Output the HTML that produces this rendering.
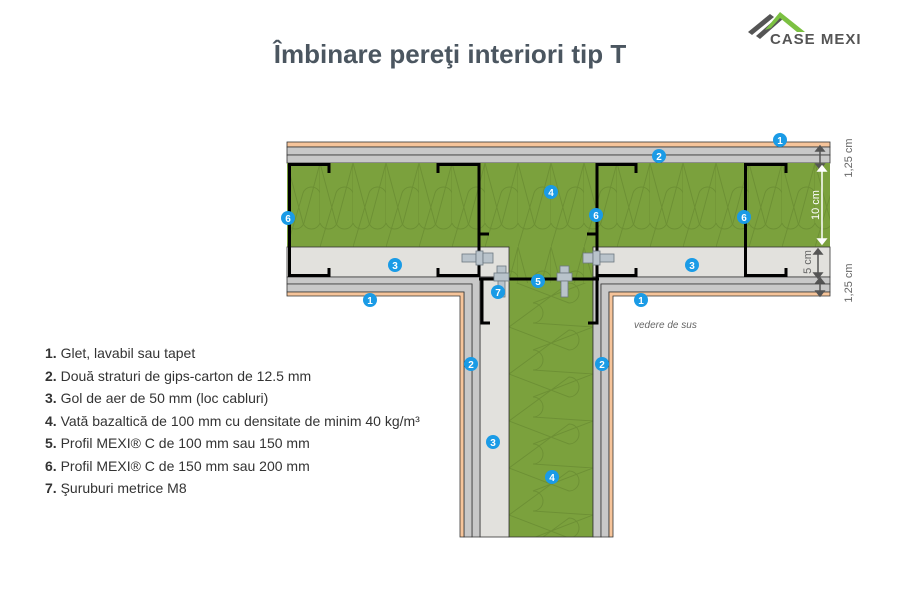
<!DOCTYPE html>
<html><head><meta charset="utf-8"><style>
body{margin:0;background:#fff;width:900px;height:600px;overflow:hidden;font-family:"Liberation Sans",sans-serif}
svg{position:absolute;left:0;top:0}
</style></head><body>
<svg width="900" height="600" viewBox="0 0 900 600" xmlns="http://www.w3.org/2000/svg">
<defs>
<pattern id="wool" x="287" y="163" width="33" height="84" patternUnits="userSpaceOnUse">
<rect width="33" height="84" fill="#7ba13d"/>
<path d="M0,0 L16,60 A9,9 0 0 0 33,60 L33,0 M33,0 L17,60 A9,9 0 0 1 0,60 M0,84 L16,30 A9,9 0 0 1 33,30" fill="none" stroke="#5b7c2b" stroke-width="1" opacity="0.45"/>
</pattern>
<pattern id="wool2" x="509" y="280" width="84" height="47" patternUnits="userSpaceOnUse">
<rect width="84" height="47" fill="#7ba13d"/>
<path d="M0,0 L60,23 A10,10 0 0 0 60,3 L0,47 M84,0 L24,23 A10,10 0 0 1 24,43 L84,47" fill="none" stroke="#5b7c2b" stroke-width="1" opacity="0.45"/>
</pattern>
</defs>
<text x="450" y="63" text-anchor="middle" font-size="26" font-weight="bold" fill="#4b5660">Îmbinare pereţi interiori tip T</text>
<path d="M748,32 L770,14 L774,17 L752,35Z" fill="#555"/>
<path d="M756,36 L780,15 L784,18 L760,39Z" fill="#555"/>
<path d="M765,30 L780,12 L805,32 L797,32 L780,18 L771,28Z" fill="#7cc142"/>
<text x="770" y="44" font-size="15" font-weight="bold" fill="#555" letter-spacing="1">CASE MEXI</text>
<rect x="287" y="142" width="543" height="5" fill="#f6c49a" stroke="#333" stroke-width="0.8"/>
<rect x="287" y="147" width="543" height="8" fill="#c8c8c8" stroke="#333" stroke-width="0.8"/>
<rect x="287" y="155" width="543" height="8" fill="#c8c8c8" stroke="#333" stroke-width="0.8"/>
<rect x="287" y="163" width="543" height="84" fill="url(#wool)"/>
<rect x="509" y="247" width="84" height="290" fill="url(#wool2)" stroke="#333" stroke-width="0.8"/>
<rect x="509" y="163" width="84" height="120" fill="url(#wool)"/>
<rect x="287" y="247" width="222" height="30" fill="#e2e1dd" stroke="#333" stroke-width="0.8"/>
<rect x="593" y="247" width="237" height="30" fill="#e2e1dd" stroke="#333" stroke-width="0.8"/>
<rect x="480" y="277" width="29" height="260" fill="#e2e1dd" stroke="#333" stroke-width="0.8"/>
<path d="M287,277 H480 V537 H472 V284 H287Z" fill="#c8c8c8" stroke="#333" stroke-width="0.8"/>
<path d="M287,284 H472 V537 H464 V292 H287Z" fill="#c8c8c8" stroke="#333" stroke-width="0.8"/>
<path d="M287,292 H464 V537 H460 V296 H287Z" fill="#f6c49a" stroke="#333" stroke-width="0.8"/>
<path d="M830,277 H593 V537 H601 V284 H830Z" fill="#c8c8c8" stroke="#333" stroke-width="0.8"/>
<path d="M830,284 H601 V537 H609 V292 H830Z" fill="#c8c8c8" stroke="#333" stroke-width="0.8"/>
<path d="M830,292 H609 V537 H613 V296 H830Z" fill="#f6c49a" stroke="#333" stroke-width="0.8"/>
<g fill="none" stroke="#000" stroke-width="3">
<path d="M329,173 V164.5 H289.5 V275.5 H329 V268"/>
<path d="M438,173 V164.5 H479 V277"/>
<path d="M438,268 V275.5 H479"/>
<path d="M479,234 H489"/>
<path d="M479,279 H599"/>
<path d="M490,323 H482 V279"/>
<path d="M588,323 H597 V279"/>
<path d="M636,173 V164.5 H597 V279"/>
<path d="M597,234 H587"/>
<path d="M636,268 V275.5 H597"/>
<path d="M786,173 V164.5 H745.5 V275.5 H786 V268"/>
</g>
<g fill="#b9c3cb" stroke="#6d7880" stroke-width="0.8">
<rect x="462" y="254" width="14" height="8"/><rect x="476" y="251" width="7" height="14"/><rect x="483" y="253" width="10" height="10"/>
<rect x="583" y="253" width="10" height="10"/><rect x="593" y="251" width="7" height="14"/><rect x="600" y="254" width="14" height="8"/>
<rect x="497" y="266" width="9" height="7"/><rect x="494" y="273" width="15" height="8"/><rect x="498" y="281" width="7" height="16"/>
<rect x="560" y="266" width="9" height="7"/><rect x="557" y="273" width="15" height="8"/><rect x="561" y="281" width="7" height="16"/>
</g>
<g stroke="#555" stroke-width="1.5" fill="#555">
<line x1="820" y1="150" x2="820" y2="165"/><path d="M816,151 L820,146 L824,151Z M816,164 L820,169 L824,164Z"/>
<line x1="818" y1="254" x2="818" y2="274"/><path d="M814,254 L818,249 L822,254Z M814,273 L818,278 L822,273Z"/>
<line x1="820" y1="282" x2="820" y2="292"/><path d="M816,283 L820,278 L824,283Z M816,291 L820,296 L824,291Z"/>
</g>
<g stroke="#fff" stroke-width="1.5" fill="#fff">
<line x1="822" y1="170" x2="822" y2="240"/><path d="M818,171 L822,166 L826,171Z M818,239 L822,244 L826,239Z"/>
</g>
<g font-size="11" fill="#666">
<text transform="translate(852,158) rotate(-90)" text-anchor="middle">1,25 cm</text>
<text transform="translate(852,283) rotate(-90)" text-anchor="middle">1,25 cm</text>
<text transform="translate(811,262) rotate(-90)" text-anchor="middle">5 cm</text>
<text transform="translate(819,205) rotate(-90)" text-anchor="middle" fill="#fff">10 cm</text>
</g>
<text x="634" y="328" font-size="10" font-style="italic" fill="#666">vedere de sus</text>
<g font-size="10" font-weight="bold" fill="#fff" text-anchor="middle">
<g fill="#1a9be6">
<circle cx="780" cy="140" r="7"/><circle cx="659" cy="156" r="7"/><circle cx="551" cy="192" r="7"/>
<circle cx="288" cy="218" r="7"/><circle cx="596" cy="215" r="7"/><circle cx="744" cy="217" r="7"/>
<circle cx="395" cy="265" r="7"/><circle cx="692" cy="265" r="7"/><circle cx="538" cy="281" r="7"/>
<circle cx="498" cy="292" r="7"/><circle cx="370" cy="300" r="7"/><circle cx="641" cy="300" r="7"/>
<circle cx="471" cy="364" r="7"/><circle cx="602" cy="364" r="7"/><circle cx="493" cy="442" r="7"/><circle cx="552" cy="477" r="7"/>
</g>
<text x="780" y="144">1</text><text x="659" y="160">2</text><text x="551" y="196">4</text>
<text x="288" y="222">6</text><text x="596" y="219">6</text><text x="744" y="221">6</text>
<text x="395" y="269">3</text><text x="692" y="269">3</text><text x="538" y="285">5</text>
<text x="498" y="296">7</text><text x="370" y="304">1</text><text x="641" y="304">1</text>
<text x="471" y="368">2</text><text x="602" y="368">2</text><text x="493" y="446">3</text><text x="552" y="481">4</text>
</g>
<g font-size="14" fill="#333">
<text x="45" y="358"><tspan font-weight="bold">1.</tspan> Glet, lavabil sau tapet</text>
<text x="45" y="381"><tspan font-weight="bold">2.</tspan> Două straturi de gips-carton de 12.5 mm</text>
<text x="45" y="403"><tspan font-weight="bold">3.</tspan> Gol de aer de 50 mm (loc cabluri)</text>
<text x="45" y="426"><tspan font-weight="bold">4.</tspan> Vată bazaltică de 100 mm cu densitate de minim 40 kg/m³</text>
<text x="45" y="448"><tspan font-weight="bold">5.</tspan> Profil MEXI® C de 100 mm sau 150 mm</text>
<text x="45" y="471"><tspan font-weight="bold">6.</tspan> Profil MEXI® C de 150 mm sau 200 mm</text>
<text x="45" y="493"><tspan font-weight="bold">7.</tspan> Şuruburi metrice M8</text>
</g>
</svg>
</body></html>
